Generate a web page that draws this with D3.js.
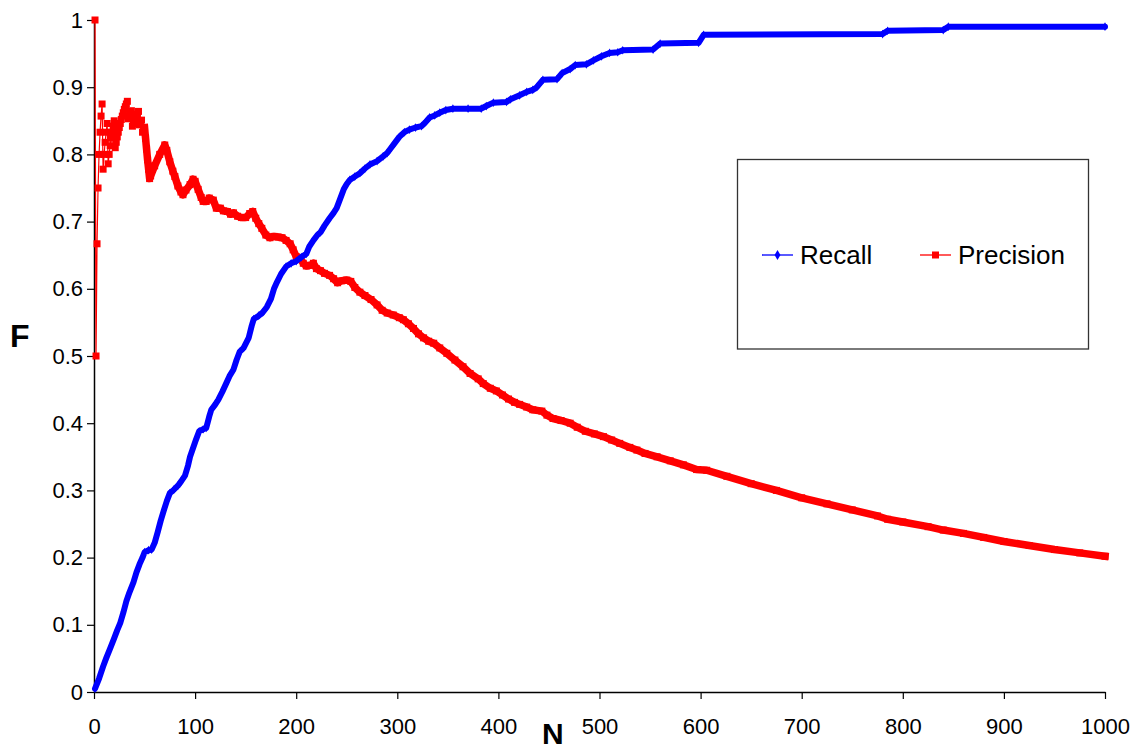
<!DOCTYPE html>
<html>
<head>
<meta charset="utf-8">
<script src="https://cdn.jsdelivr.net/npm/d3@7/dist/d3.min.js"></script>
<style>
  html, body { margin: 0; padding: 0; background: #fff; }
  svg { display: block; font-family: "Liberation Sans", Arial, sans-serif; }
</style>
</head>
<body>
<svg id="chart" width="1134" height="752"></svg>
<script>
// ---- Data ----
const yTickValues = [0, 0.1, 0.2, 0.3, 0.4, 0.5, 0.6, 0.7, 0.8, 0.9, 1];
const yTickLabels = ["0", "0.1", "0.2", "0.3", "0.4", "0.5", "0.6", "0.7", "0.8", "0.9", "1"];
const xTickValues = [0, 100, 200, 300, 400, 500, 600, 700, 800, 900, 1000];
const xTickLabels = ["0", "100", "200", "300", "400", "500", "600", "700", "800", "900", "1000"];
const seriesNames = ["Recall", "Precision"];

const recallN = [1, 5, 9, 12, 16, 20, 23, 26, 29, 32, 35, 39, 42, 45, 48, 50, 54, 57, 60, 63, 66, 69, 72, 75, 79, 83, 86, 90, 93, 95, 98, 101, 104, 108, 111, 114, 116, 120, 123, 127, 131, 134, 138, 141, 144, 148, 153, 156, 158, 163, 167, 171, 175, 178, 181, 185, 190, 195, 200, 205, 210, 213, 217, 221, 224, 228, 233, 237, 240, 243, 247, 250, 253, 258, 263, 268, 273, 280, 286, 290, 293, 297, 302, 307, 312, 318, 324, 328, 332, 337, 342, 348, 355, 370, 383, 388, 395, 408, 412, 421, 428, 434, 438, 444, 458, 463, 471, 476, 487, 494, 502, 510, 518, 523, 553, 560, 598, 603, 780, 785, 840, 845, 1000];
const recallV = [0.005, 0.02, 0.038, 0.05, 0.065, 0.08, 0.092, 0.103, 0.118, 0.135, 0.148, 0.163, 0.178, 0.19, 0.2, 0.208, 0.211, 0.212, 0.222, 0.238, 0.255, 0.27, 0.284, 0.296, 0.301, 0.307, 0.313, 0.322, 0.337, 0.35, 0.363, 0.376, 0.388, 0.391, 0.393, 0.41, 0.42, 0.428, 0.435, 0.447, 0.46, 0.47, 0.48, 0.494, 0.506, 0.512, 0.527, 0.545, 0.555, 0.56, 0.565, 0.573, 0.585, 0.6, 0.61, 0.622, 0.633, 0.638, 0.641, 0.647, 0.652, 0.663, 0.672, 0.68, 0.684, 0.694, 0.705, 0.713, 0.72, 0.732, 0.748, 0.756, 0.762, 0.767, 0.772, 0.779, 0.785, 0.79, 0.797, 0.802, 0.808, 0.816, 0.826, 0.833, 0.837, 0.84, 0.842, 0.848, 0.855, 0.858, 0.862, 0.866, 0.868, 0.868, 0.868, 0.872, 0.877, 0.878, 0.882, 0.888, 0.893, 0.896, 0.9, 0.911, 0.912, 0.921, 0.927, 0.933, 0.934, 0.94, 0.946, 0.951, 0.952, 0.955, 0.956, 0.965, 0.966, 0.978, 0.979, 0.984, 0.985, 0.99, 0.99];

const precisionN = [1, 2, 3, 4, 5, 6, 7, 8, 9, 10, 11, 12, 13, 14, 15, 16, 17, 18, 19, 20, 21, 22, 23, 24, 25, 26, 27, 28, 29, 30, 31, 32, 33, 34, 35, 36, 37, 38, 39, 40, 41, 42, 43, 44, 45, 46, 47, 48, 49, 50, 51, 52, 53, 54, 55, 56, 60, 65, 70, 72, 75, 78, 80, 83, 86, 88, 91, 95, 98, 100, 103, 106, 108, 111, 114, 118, 121, 125, 128, 132, 135, 138, 142, 146, 150, 154, 157, 160, 163, 166, 170, 174, 178, 182, 186, 190, 194, 197, 200, 204, 207, 210, 214, 217, 220, 224, 228, 233, 237, 241, 245, 250, 254, 258, 263, 268, 274, 280, 285, 290, 296, 302, 306, 311, 316, 321, 326, 331, 336, 342, 349, 357, 365, 372, 380, 385, 392, 398, 404, 410, 416, 421, 428, 434, 443, 448, 454, 462, 471, 478, 486, 495, 504, 512, 520, 530, 537, 545, 557, 570, 583, 596, 606, 626, 650, 675, 700, 725, 750, 775, 785, 800, 825, 840, 860, 880, 900, 925, 950, 975, 1000];
const precisionV = [1, 0.5, 0.667, 0.75, 0.8, 0.833, 0.857, 0.875, 0.778, 0.8, 0.818, 0.833, 0.846, 0.786, 0.8, 0.813, 0.824, 0.833, 0.842, 0.85, 0.81, 0.818, 0.826, 0.833, 0.84, 0.846, 0.852, 0.857, 0.862, 0.867, 0.871, 0.875, 0.879, 0.853, 0.857, 0.861, 0.865, 0.842, 0.846, 0.85, 0.854, 0.857, 0.86, 0.864, 0.844, 0.848, 0.851, 0.833, 0.837, 0.84, 0.824, 0.808, 0.792, 0.778, 0.764, 0.768, 0.783, 0.8, 0.814, 0.806, 0.789, 0.775, 0.767, 0.753, 0.744, 0.74, 0.747, 0.755, 0.763, 0.76, 0.748, 0.736, 0.73, 0.73, 0.735, 0.732, 0.72, 0.72, 0.716, 0.715, 0.711, 0.713, 0.708, 0.706, 0.706, 0.712, 0.715, 0.705, 0.697, 0.69, 0.68, 0.676, 0.678, 0.677, 0.676, 0.672, 0.667, 0.658, 0.648, 0.645, 0.638, 0.634, 0.635, 0.638, 0.63, 0.627, 0.623, 0.62, 0.615, 0.609, 0.612, 0.613, 0.611, 0.602, 0.595, 0.59, 0.584, 0.576, 0.568, 0.564, 0.561, 0.557, 0.554, 0.548, 0.541, 0.533, 0.527, 0.522, 0.519, 0.512, 0.504, 0.494, 0.484, 0.474, 0.466, 0.459, 0.452, 0.448, 0.442, 0.436, 0.431, 0.428, 0.424, 0.42, 0.418, 0.412, 0.407, 0.404, 0.4, 0.394, 0.388, 0.384, 0.38, 0.375, 0.37, 0.364, 0.36, 0.355, 0.35, 0.344, 0.338, 0.331, 0.33, 0.321, 0.31, 0.3, 0.289, 0.28, 0.271, 0.262, 0.257, 0.253, 0.246, 0.241, 0.236, 0.23, 0.224, 0.218, 0.212, 0.207, 0.202];

// ---- Layout ----
const svg = d3.select("#chart");
const x = d3.scaleLinear().domain([0, 1000]).range([94, 1105]);
const y = d3.scaleLinear().domain([0, 1]).range([692, 20]);

const recall = recallN.map((n, i) => ({ n, v: recallV[i] }));
const precision = precisionN.map((n, i) => ({ n, v: precisionV[i] }));
const denseFrom = 50; // precision markers merge into a solid band from here on

const line = d3.line().x(d => x(d.n)).y(d => y(d.v));

// ---- Axes ----
const yAxis = d3.axisLeft(y).tickValues(yTickValues)
  .tickFormat((d, i) => yTickLabels[i]).tickSize(7).tickPadding(4).tickSizeOuter(0);
const gy = svg.append("g").attr("transform", "translate(94,0)").call(yAxis);
gy.select(".domain").attr("stroke", "#000").attr("stroke-width", 1.5);
gy.selectAll(".tick line").attr("stroke", "#000").attr("stroke-width", 1.2);
gy.selectAll(".tick text").attr("font-size", 22).attr("fill", "#000")
  .attr("font-family", "Liberation Sans, Arial, sans-serif");

const xAxis = d3.axisBottom(x).tickValues(xTickValues)
  .tickFormat((d, i) => xTickLabels[i]).tickSize(7).tickPadding(19).tickSizeOuter(0);
const gx = svg.append("g").attr("transform", "translate(0,692)").call(xAxis);
gx.select(".domain").attr("stroke", "#000").attr("stroke-width", 1.5);
gx.selectAll(".tick line").attr("stroke", "#000").attr("stroke-width", 1.2);
gx.selectAll(".tick text").attr("font-size", 22).attr("fill", "#000")
  .attr("font-family", "Liberation Sans, Arial, sans-serif");

// Axis titles
svg.append("text").attr("x", 10).attr("y", 347).text("F")
  .attr("font-size", 32).attr("font-weight", "bold").attr("fill", "#000");
svg.append("text").attr("x", 542).attr("y", 744).text("N")
  .attr("font-size", 30).attr("font-weight", "bold").attr("fill", "#000");

// ---- Precision series ----
const red = "#ff0000", blue = "#0000ff";
svg.append("path").datum(precision).attr("d", line)
  .attr("fill", "none").attr("stroke", red).attr("stroke-width", 1.2);
svg.append("path").datum(precision.filter(d => d.n >= denseFrom)).attr("d", line)
  .attr("fill", "none").attr("stroke", red).attr("stroke-width", 7.5)
  .attr("stroke-linejoin", "round").attr("stroke-linecap", "square");
svg.append("g").selectAll("rect").data(precision).join("rect")
  .attr("x", d => x(d.n) - 3.5).attr("y", d => y(d.v) - 3.5)
  .attr("width", 7).attr("height", 7).attr("fill", red);

// ---- Recall series ----
svg.append("path").datum(recall).attr("d", line)
  .attr("fill", "none").attr("stroke", blue).attr("stroke-width", 6)
  .attr("stroke-linejoin", "round").attr("stroke-linecap", "round");
const diamond = d3.symbol().type(d3.symbolDiamond).size(22);
svg.append("g").selectAll("path").data(recall).join("path")
  .attr("transform", d => `translate(${x(d.n)},${y(d.v)})`)
  .attr("d", diamond).attr("fill", blue);

// ---- Legend ----
const lg = svg.append("g");
lg.append("rect").attr("x", 737.5).attr("y", 159.5).attr("width", 351).attr("height", 189.5)
  .attr("fill", "#fff").attr("stroke", "#333").attr("stroke-width", 1.3);
const legendItems = [
  { name: seriesNames[0], color: blue, x0: 762, marker: "diamond" },
  { name: seriesNames[1], color: red, x0: 920, marker: "square" }
];
legendItems.forEach(it => {
  lg.append("line").attr("x1", it.x0).attr("x2", it.x0 + 31).attr("y1", 255).attr("y2", 255)
    .attr("stroke", it.color).attr("stroke-width", 1.3);
  if (it.marker === "diamond") {
    lg.append("path").attr("transform", `translate(${it.x0 + 15.5},255)`)
      .attr("d", d3.symbol().type(d3.symbolDiamond).size(30)).attr("fill", it.color);
  } else {
    lg.append("rect").attr("x", it.x0 + 15.5 - 3.5).attr("y", 251.5).attr("width", 7).attr("height", 7)
      .attr("fill", it.color);
  }
  lg.append("text").attr("x", it.x0 + 38).attr("y", 264).text(it.name)
    .attr("font-size", 26).attr("fill", "#000");
});
</script>
</body>
</html>
